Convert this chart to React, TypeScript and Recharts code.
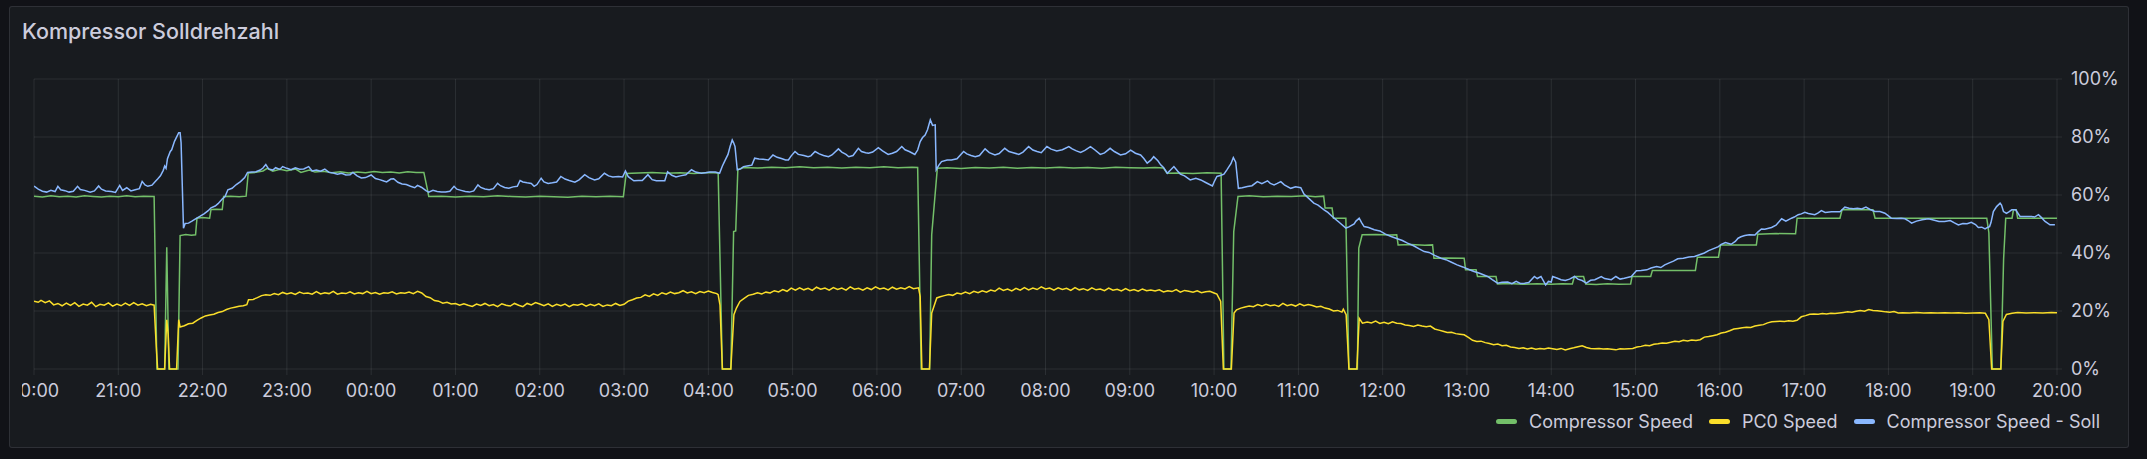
import React from 'react';
import { LineChart, Line, XAxis, YAxis, CartesianGrid } from 'recharts';

// minutes since 20:00, percent
const compressorSpeed: [number, number][] = [
  [0, 59.6], [6, 59.3], [12, 59.7], [18, 59.4], [24, 59.6], [30, 59.3], [36, 59.7], [42, 59.5], [48, 59.3],
  [54, 59.6], [60, 59.4], [66, 59.7], [72, 59.4], [78, 59.6], [85.5, 59.5], [87.5, 0], [93, 0], [94.5, 42],
  [96, 0], [102.5, 0], [104, 46], [108, 46.4], [112, 46.1], [115, 46.3], [116, 52], [120, 52.2], [125, 52],
  [126, 55], [130, 55.1], [134, 55], [135, 59.5], [140, 59.6], [146, 59.4], [151, 59.6], [152.5, 67.6],
  [158, 67.8], [163, 68.3], [166, 69.2], [170, 68.2], [175, 68.9], [180, 68.4], [186, 69.0], [190, 67.8],
  [196, 68.6], [200, 67.9], [206, 68.2], [212, 67.7], [218, 68.0], [224, 67.6], [230, 67.9], [236, 67.7],
  [242, 68.1], [248, 67.8], [254, 67.9], [260, 67.6], [266, 68.0], [272, 67.8], [277.5, 67.8], [280, 62],
  [281, 59.5], [290, 59.6], [300, 59.3], [310, 59.6], [320, 59.4], [330, 59.7], [340, 59.5], [350, 59.3],
  [360, 59.6], [370, 59.4], [380, 59.2], [390, 59.6], [400, 59.4], [410, 59.6], [419.5, 59.4], [421.5, 67.4],
  [430, 67.6], [440, 67.8], [450, 67.5], [460, 67.7], [470, 67.4], [480, 67.8], [487, 67.6], [490, 0],
  [496, 0], [498, 47.4], [499.5, 47.6], [501, 68.7], [505, 69.5], [515, 69.3], [525, 69.6], [535, 69.4],
  [545, 69.7], [555, 69.4], [565, 69.6], [575, 69.3], [585, 69.6], [595, 69.4], [605, 69.7], [615, 69.4],
  [625, 69.6], [629, 69.5], [631.5, 0], [637.5, 0], [639, 46.3], [643, 69.2], [650, 69.4], [660, 69.1],
  [670, 69.5], [680, 69.3], [690, 69.6], [700, 69.2], [710, 69.5], [720, 69.3], [730, 69.6], [740, 69.3],
  [750, 69.5], [760, 69.2], [770, 69.6], [780, 69.4], [790, 69.3], [798, 69.5], [804, 69.3], [806.5, 67.5],
  [815, 67.6], [825, 67.4], [835, 67.7], [845, 67.5], [847, 0], [852, 0], [854, 47.4], [857, 59.5],
  [865, 59.7], [875, 59.4], [885, 59.6], [895, 59.5], [905, 59.7], [912, 59.4], [918, 59.6], [919, 55.5],
  [924, 55.5], [925, 52], [933.8, 52], [936, 0], [942, 0], [943, 41.7], [945.4, 46.3], [955, 46.4],
  [965, 46.2], [970, 46.3], [971, 42.8], [980, 42.9], [990, 42.7], [995.5, 42.8], [996.5, 38.2], [1005, 38.3],
  [1018, 38.2], [1019, 34.2], [1026.5, 34.2], [1027.5, 31.9], [1040.7, 31.9], [1041.7, 29.3], [1050, 29.5],
  [1060, 29.2], [1070, 29.4], [1080, 29.2], [1088, 29.4], [1095, 29.3], [1096.5, 31.9], [1103, 31.9],
  [1104.5, 29.3], [1112, 29.1], [1120, 29.4], [1128, 29.2], [1136.5, 29.3], [1137.5, 31.9], [1150.8, 31.9],
  [1152, 34], [1182.6, 34], [1184, 38.5], [1199, 38.5], [1200.5, 42.8], [1226, 42.8], [1227, 46.5],
  [1240, 46.7], [1253.9, 46.6], [1255, 52], [1285.5, 52], [1287, 54.9], [1309, 54.9], [1310.5, 52],
  [1390, 52], [1391.5, 47], [1394, 0], [1400, 0], [1402, 38], [1403.5, 52], [1408, 52], [1409, 54.9],
  [1411, 54.9], [1412, 52], [1440, 52],
];

const pc0Speed: [number, number][] = [
  [0, 23.4], [3, 23.0], [5, 23.7], [8, 22.9], [11, 23.5], [14, 22.1], [17, 22.6], [20, 21.8], [23, 22.7],
  [26, 21.9], [29, 22.9], [32, 21.6], [35, 22.4], [38, 22.0], [41, 23.0], [44, 21.5], [47, 22.3], [50, 22.0],
  [53, 22.8], [56, 21.7], [59, 22.4], [62, 21.8], [65, 22.7], [68, 21.9], [71, 22.9], [74, 22.0], [77, 22.5],
  [80, 21.8], [83, 22.3], [85.5, 22.0], [87, 8], [88, 0], [93, 0], [94.5, 17], [95.5, 12], [96.5, 0],
  [101.5, 0], [103, 17], [104, 14.5], [107, 14.9], [110, 15.6], [113, 15.8], [116, 16.8], [119, 17.6],
  [122, 18.3], [125, 18.6], [128, 18.9], [131, 19.5], [134, 19.8], [137, 20.5], [140, 21.0], [143, 21.3],
  [146, 21.6], [149, 21.8], [151.5, 22.2], [152.7, 23.9], [156, 24.0], [159, 24.6], [162, 25.3], [165, 25.6],
  [168, 25.4], [171, 26.0], [174, 25.6], [177, 26.4], [180, 25.9], [183, 26.3], [186, 25.7], [189, 26.5],
  [192, 26.0], [195, 26.2], [198, 25.8], [201, 26.7], [204, 25.9], [207, 26.3], [210, 26.0], [213, 26.8],
  [216, 25.8], [219, 26.2], [222, 26.0], [225, 26.6], [228, 25.9], [231, 26.3], [234, 26.0], [237, 26.8],
  [240, 26.0], [243, 26.4], [246, 25.8], [249, 26.3], [252, 26.1], [255, 26.6], [258, 25.9], [261, 26.3],
  [264, 26.1], [267, 26.5], [270, 26.0], [273, 26.8], [276, 26.2], [279, 25.0], [282, 24.6], [285, 23.6],
  [288, 23.4], [291, 22.7], [294, 23.0], [297, 22.4], [300, 22.6], [303, 22.0], [306, 22.5], [309, 22.0],
  [312, 21.6], [315, 22.4], [318, 21.9], [321, 22.6], [324, 21.8], [327, 22.2], [330, 21.5], [333, 22.5],
  [336, 22.0], [339, 21.7], [342, 22.6], [345, 22.0], [348, 21.5], [351, 22.6], [354, 22.1], [357, 22.9],
  [360, 22.4], [363, 21.8], [366, 22.5], [369, 21.6], [372, 22.3], [375, 21.8], [378, 22.4], [381, 21.5],
  [384, 22.2], [387, 22.0], [390, 22.5], [393, 21.7], [396, 22.3], [399, 21.8], [402, 22.5], [405, 21.6],
  [408, 22.1], [411, 21.8], [414, 22.6], [417, 21.9], [420, 22.3], [423, 23.4], [426, 23.9], [429, 24.5],
  [432, 24.7], [435, 25.6], [438, 25.0], [441, 25.9], [444, 25.4], [447, 26.3], [450, 25.8], [453, 26.5],
  [456, 26.0], [459, 26.3], [462, 27.0], [465, 26.2], [468, 26.6], [471, 26.0], [474, 26.7], [477, 26.3],
  [480, 26.9], [483, 26.4], [486, 26.0], [487, 25.6], [488.3, 22], [490, 0], [496, 0], [498.2, 18.7],
  [500, 21.0], [502.5, 23.3], [505, 24.2], [508.5, 25.4], [512, 25.8], [515, 26.3], [518, 25.9], [521, 26.5],
  [524, 26.2], [527, 27.0], [530, 26.6], [533, 27.4], [536, 26.8], [539, 27.9], [542, 27.2], [545, 28.0],
  [548, 27.3], [551, 27.8], [554, 27.1], [557, 28.2], [560, 27.5], [563, 27.9], [566, 27.2], [569, 28.1],
  [572, 27.4], [575, 27.9], [578, 27.2], [581, 28.3], [584, 27.5], [587, 27.8], [590, 27.2], [593, 28.0],
  [596, 27.4], [599, 28.3], [602, 27.6], [605, 27.9], [608, 27.3], [611, 28.2], [614, 27.5], [617, 28.0],
  [620, 27.6], [623, 28.4], [626, 27.7], [629.6, 28.0], [630.8, 25], [632, 0], [637.4, 0], [639, 19.3],
  [642.6, 24.5], [645, 24.9], [648, 25.3], [651, 25.7], [654, 25.4], [657, 26.2], [660, 25.9], [663, 26.5],
  [666, 26.0], [669, 26.8], [672, 26.3], [675, 27.0], [678, 26.5], [681, 27.2], [684, 26.8], [687, 27.9],
  [690, 27.1], [693, 27.6], [696, 26.9], [699, 27.8], [702, 27.2], [705, 28.1], [708, 27.3], [711, 27.9],
  [714, 27.4], [717, 28.3], [720, 27.6], [723, 27.9], [726, 27.2], [729, 28.0], [732, 27.4], [735, 27.8],
  [738, 27.1], [741, 28.1], [744, 27.3], [747, 27.7], [750, 27.1], [753, 28.0], [756, 27.3], [759, 27.6],
  [762, 27.0], [765, 27.9], [768, 27.2], [771, 27.5], [774, 26.9], [777, 27.7], [780, 27.0], [783, 27.4],
  [786, 26.8], [789, 27.6], [792, 27.0], [795, 27.2], [798, 26.9], [801, 27.3], [804, 26.6], [807, 27.0],
  [810, 26.7], [813, 27.4], [816, 26.5], [819, 27.1], [822, 26.8], [825, 26.5], [828, 27.0], [831, 26.3],
  [834, 26.6], [837, 26.8], [840, 26.2], [842, 25.8], [844.7, 23.3], [846.6, 0], [852.3, 0], [854.2, 19.3],
  [856, 20.4], [859, 21.0], [862, 21.4], [865, 21.7], [868, 21.5], [871, 22.2], [874, 21.7], [877, 22.3],
  [880, 21.8], [883, 22.1], [886, 21.6], [889, 22.6], [892, 21.8], [895, 22.2], [898, 21.7], [901, 22.5],
  [904, 21.8], [907, 22.2], [910, 21.9], [913, 21.4], [916, 21.6], [919, 21.0], [922, 20.7], [925, 20.0],
  [928, 20.2], [931, 19.6], [932, 20.6], [934, 18.7], [936, 0], [941.6, 0], [943.3, 17.5], [945.6, 15.8],
  [949, 16.2], [952, 15.9], [955, 16.5], [958, 15.7], [961, 16.1], [964, 15.6], [967, 16.3], [970, 15.8],
  [973, 15.7], [976, 15.2], [979, 15.0], [982, 14.7], [985, 15.2], [988, 14.8], [991, 14.6], [994, 14.8],
  [997, 13.8], [1000, 13.4], [1003, 13.0], [1006, 12.6], [1009, 12.7], [1012, 12.2], [1015, 12.0],
  [1018, 11.8], [1021, 10.9], [1024, 9.9], [1027, 9.5], [1030, 9.6], [1033, 9.1], [1036, 8.8], [1039, 8.4],
  [1042, 8.6], [1045, 8.0], [1048, 8.2], [1051, 7.6], [1054, 7.4], [1057, 7.1], [1060, 7.3], [1063, 6.9],
  [1066, 7.2], [1069, 6.8], [1072, 7.1], [1075, 6.9], [1078, 7.2], [1081, 7.0], [1084, 6.7], [1087, 7.1],
  [1090, 6.6], [1093, 7.0], [1096, 7.3], [1099, 7.7], [1102, 8.0], [1105, 7.4], [1108, 7.1], [1111, 7.0],
  [1114, 7.1], [1117, 6.9], [1120, 7.0], [1123, 6.8], [1126, 6.6], [1129, 7.0], [1132, 6.9], [1135, 7.0],
  [1138, 7.1], [1141, 7.6], [1144, 7.8], [1147, 8.2], [1150, 8.0], [1153, 8.5], [1156, 8.7], [1159, 9.0],
  [1162, 8.9], [1165, 9.2], [1168, 9.6], [1171, 9.4], [1174, 9.9], [1177, 9.7], [1180, 10.0], [1183, 9.8],
  [1186, 10.1], [1189, 11.0], [1192, 11.2], [1195, 11.5], [1198, 11.8], [1201, 12.4], [1204, 12.7],
  [1207, 13.2], [1210, 13.8], [1213, 14.0], [1216, 14.2], [1219, 14.4], [1222, 14.3], [1225, 14.8],
  [1228, 15.1], [1231, 15.3], [1234, 15.9], [1237, 16.3], [1240, 16.4], [1243, 16.5], [1246, 16.4],
  [1249, 16.6], [1252, 16.5], [1255, 16.8], [1258, 18.0], [1261, 18.4], [1264, 18.9], [1267, 19.0],
  [1270, 18.9], [1273, 19.1], [1276, 19.0], [1279, 19.2], [1282, 19.1], [1285, 19.3], [1288, 19.5],
  [1291, 19.7], [1294, 19.6], [1297, 19.9], [1300, 20.2], [1303, 19.9], [1306, 20.5], [1309, 20.2],
  [1312, 20.1], [1315, 19.9], [1318, 19.7], [1321, 19.6], [1324, 19.8], [1327, 19.3], [1330, 19.4],
  [1335, 19.3], [1340, 19.5], [1345, 19.3], [1350, 19.4], [1355, 19.3], [1360, 19.4], [1365, 19.3],
  [1370, 19.4], [1375, 19.2], [1380, 19.3], [1385, 19.4], [1389, 19.2], [1391.5, 17], [1393.5, 0],
  [1400, 0], [1401.5, 16.4], [1404, 18.8], [1408, 19.2], [1412, 19.5], [1418, 19.3], [1424, 19.4],
  [1430, 19.3], [1436, 19.5], [1440, 19.4],
];

const compressorSpeedSoll: [number, number][] = [
  [0, 63.1], [3, 62.0], [6, 61.3], [9, 61.0], [12, 61.6], [15, 61.2], [17, 63.0], [19, 61.8], [22, 61.5],
  [25, 61.0], [28, 61.3], [31, 63.0], [33, 61.9], [36, 61.6], [40, 61.0], [43, 61.4], [46, 63.1], [48, 62.0],
  [51, 61.4], [55, 61.2], [58, 60.9], [61, 63.3], [63, 61.6], [66, 62.5], [69, 61.4], [72, 61.8], [75, 62.2],
  [77, 64.7], [79, 63.5], [81, 63.0], [84, 63.4], [86, 64.5], [88, 65.5], [90, 66.6], [92, 68.5], [93, 70.0],
  [94, 69.2], [95, 72.5], [97, 75.0], [98, 75.6], [100, 78.5], [102, 80.5], [103, 81.5], [104, 81.5],
  [104.7, 78], [106.4, 48.5], [107.6, 50.2], [110, 50.3], [112.4, 51.0], [115, 51.8], [118, 52.6],
  [121, 53.5], [124, 54.6], [126, 55.6], [129, 56.2], [131, 57.0], [134, 58.6], [136, 59.5], [138, 61.8],
  [141, 62.3], [144, 63.6], [147, 64.6], [150, 66.0], [152, 67.8], [155, 67.9], [158, 68.0], [161, 68.6],
  [163, 69.3], [165, 70.5], [167, 69.0], [170, 68.6], [172, 69.4], [175, 68.8], [177, 69.8], [180, 69.2],
  [183, 68.7], [186, 69.4], [189, 68.9], [192, 69.0], [195.5, 69.8], [198, 68.3], [201, 68.6], [204, 68.2],
  [207, 68.9], [210, 67.8], [213, 67.6], [216, 67.2], [219, 67.5], [222, 66.9], [225, 67.0], [227, 67.8],
  [230, 66.6], [233, 65.9], [236, 66.0], [240, 66.9], [243, 65.7], [246, 65.3], [249, 64.8], [251, 64.5],
  [254, 65.5], [256, 65.6], [259, 64.4], [262, 63.8], [265, 63.6], [268, 63.0], [271, 62.5], [273, 63.3],
  [276, 62.6], [279, 61.5], [281, 61.0], [284, 61.6], [287, 61.2], [290, 61.0], [293, 61.0], [296, 61.3],
  [299, 63.0], [301, 62.0], [304, 61.6], [307, 61.2], [310, 61.0], [313, 61.4], [316, 63.5], [318, 62.6],
  [321, 62.1], [324, 61.8], [327, 62.2], [330, 64.0], [332, 63.2], [335, 62.6], [338, 62.3], [341, 62.8],
  [344, 63.0], [346, 65.0], [348, 64.5], [351, 64.2], [354, 64.0], [356, 63.0], [358, 63.6], [361, 65.8],
  [363, 64.5], [366, 64.0], [369, 64.2], [372, 64.5], [375, 66.4], [378, 65.5], [381, 65.0], [385, 64.4],
  [388, 65.2], [392, 67.0], [395, 66.0], [399, 65.2], [402, 65.6], [406, 67.5], [409, 66.6], [412, 66.2],
  [416, 66.4], [419, 66.2], [421, 68.3], [423, 66.3], [427, 64.9], [430, 65.0], [433, 65.0], [437, 67.0],
  [440, 65.3], [443, 64.9], [446, 64.9], [449, 64.9], [451, 68.0], [454, 66.8], [457, 66.2], [460, 66.6],
  [464, 67.0], [468, 68.7], [471, 67.9], [475, 67.5], [478, 67.7], [481, 67.9], [485, 67.9], [488, 67.5],
  [490, 70.0], [492, 72.0], [494, 74.0], [495.5, 76.7], [497, 79.0], [498, 78.0], [499, 76.7], [500.6, 68.7],
  [503, 69.0], [505, 69.8], [508.5, 70.1], [511, 70.3], [513, 72.7], [516, 72.4], [519, 72.3], [522.7, 72.1],
  [526, 73.8], [529, 73.0], [532, 72.6], [535, 72.1], [537, 72.1], [539, 73.5], [541.7, 75.0], [544, 74.0],
  [548, 73.6], [551, 73.2], [553, 73.5], [556, 75.0], [559, 74.2], [562, 73.6], [565.5, 73.2], [568, 73.8],
  [572.6, 75.9], [575, 74.8], [578, 74.0], [580, 73.2], [583, 73.6], [586.8, 76.1], [589, 75.0], [592, 74.6],
  [594, 74.4], [597, 74.8], [601, 76.3], [604, 75.2], [608, 74.0], [611, 74.4], [614, 75.0], [617.7, 76.7],
  [620, 75.6], [623, 75.0], [627, 74.0], [629, 75.5], [630.8, 78.4], [632.5, 79.8], [634.3, 80.7],
  [636, 82.5], [638, 85.9], [639.6, 84.0], [641.5, 84.2], [642.2, 68.7], [644, 70.2], [646, 71.5],
  [650, 72.1], [653, 72.1], [657, 72.5], [661.7, 75.0], [664, 74.2], [667, 73.6], [670, 73.2], [673, 73.6],
  [677, 75.9], [680, 74.6], [684, 73.8], [687, 74.3], [691, 76.1], [694, 75.0], [697, 74.6], [701, 74.0],
  [704, 74.8], [708, 76.7], [711, 75.5], [714, 75.0], [717, 74.6], [721, 76.7], [724, 75.8], [728, 75.2],
  [732, 75.6], [736.6, 76.7], [739, 75.9], [742, 75.2], [745, 74.7], [748, 75.4], [752, 76.7], [755, 75.6],
  [759, 74.0], [762, 74.5], [766, 76.1], [769, 75.0], [773.4, 73.8], [777, 74.2], [780.6, 75.5], [784, 74.4],
  [787.7, 73.8], [790, 72.6], [792.4, 71.0], [795, 72.0], [797, 73.2], [800, 71.8], [802, 70.4], [804, 69.5],
  [806.7, 67.5], [809, 68.6], [811.4, 69.8], [814, 68.3], [816, 67.2], [819, 66.6], [823, 65.2], [827, 65.8],
  [830.5, 65.2], [834, 64.3], [838.8, 63.1], [840, 64.5], [842, 66.4], [845, 66.8], [847, 67.2], [849, 68.6],
  [850.6, 69.8], [852, 70.8], [853.7, 72.9], [855.4, 71.3], [857.3, 62.3], [860, 62.5], [863.7, 62.9],
  [867, 63.2], [870.8, 64.6], [874, 63.9], [878, 64.9], [880, 64.0], [882.7, 63.5], [885, 64.0],
  [887.5, 64.6], [890, 63.5], [894.6, 62.3], [898, 62.8], [901.7, 62.5], [904, 60.3], [907, 59.0],
  [911, 57.2], [914, 56.5], [918.3, 54.9], [921, 54.0], [925.5, 52.0], [929, 50.6], [933.8, 48.6],
  [936, 49.0], [939.7, 50.0], [941, 51.0], [943.3, 52.0], [945, 50.5], [946.8, 49.1], [950, 48.8],
  [954, 48.0], [958, 47.6], [962, 46.5], [966, 45.7], [970, 45.0], [974, 44.3], [977.7, 43.4], [982, 42.5],
  [986, 41.4], [989.6, 40.5], [993, 40.2], [997, 39.2], [1001.5, 38.2], [1005, 37.7], [1009, 36.8],
  [1013, 35.9], [1017, 35.2], [1021, 34.4], [1025, 33.6], [1029, 33.0], [1034.7, 31.9], [1038, 30.8],
  [1041.8, 29.6], [1045, 29.9], [1049, 30.0], [1052, 29.4], [1055, 30.2], [1058, 29.5], [1061, 29.6],
  [1064, 29.8], [1068, 31.9], [1070, 31.2], [1072.7, 31.9], [1076, 29.0], [1078, 30.2], [1080, 30.0],
  [1081, 31.9], [1084, 31.4], [1087, 30.8], [1090, 30.5], [1093, 31.0], [1096.6, 31.9], [1099, 31.0],
  [1102, 30.5], [1105, 29.6], [1108, 30.6], [1111, 30.8], [1115.6, 31.9], [1118, 31.2], [1122.8, 30.8],
  [1126, 31.9], [1129, 31.0], [1132, 31.3], [1137, 31.9], [1140.6, 33.9], [1144, 34.0], [1148, 34.2],
  [1151, 34.8], [1155, 35.3], [1158, 35.0], [1160.8, 35.9], [1164, 36.6], [1167, 37.2], [1170, 38.0],
  [1174, 38.2], [1178, 38.6], [1182, 38.8], [1186, 39.5], [1189, 40.0], [1192, 40.8], [1196.4, 41.7],
  [1199, 42.2], [1201, 43.0], [1204, 43.6], [1208, 43.0], [1211, 44.0], [1213, 45.1], [1215, 45.6],
  [1217.8, 46.0], [1221, 46.3], [1225, 46.2], [1227, 47.2], [1229.6, 48.3], [1232, 48.2], [1236.8, 48.8],
  [1240, 49.6], [1244, 51.8], [1247, 51.0], [1251, 52.0], [1253, 52.4], [1255.8, 53.2], [1258, 53.5],
  [1260.5, 54.0], [1263, 53.6], [1267.6, 53.2], [1270, 53.8], [1272.3, 54.6], [1275, 54.0], [1279.5, 54.2],
  [1282, 54.2], [1285.5, 54.2], [1287, 54.9], [1289, 55.8], [1292, 55.4], [1295, 55.3], [1298, 55.4],
  [1301, 55.2], [1304, 55.8], [1307, 55.0], [1310.4, 54.3], [1314, 54.3], [1317.5, 53.7], [1320, 52.8],
  [1322, 52.0], [1326, 51.9], [1329, 52.0], [1331.8, 51.8], [1334, 51.2], [1336.5, 50.3], [1340, 51.0],
  [1344, 51.5], [1348.4, 51.8], [1352, 51.4], [1356, 50.9], [1360, 50.9], [1364, 51.2], [1367, 50.4],
  [1369.8, 49.7], [1373, 50.2], [1376, 50.1], [1379, 50.6], [1382, 49.8], [1384, 48.8], [1386.5, 48.9],
  [1388.8, 48.3], [1390.5, 48.8], [1392, 49.1], [1393, 50.5], [1394.7, 54.3], [1397, 56.0], [1399.5, 57.2],
  [1400.5, 56.5], [1401.9, 54.3], [1404, 53.7], [1406, 54.3], [1407.8, 54.9], [1410.6, 54.9], [1413.7, 52.6],
  [1418, 52.6], [1422, 52.6], [1424, 52.4], [1426.8, 53.2], [1429, 52.2], [1431.5, 50.9], [1435, 49.7],
  [1438.5, 49.7],
];

const hourTicks = [0, 60, 120, 180, 240, 300, 360, 420, 480, 540, 600, 660, 720, 780, 840, 900, 960, 1020, 1080, 1140, 1200, 1260, 1320, 1380, 1440];
const hourLabels = ['20:00', '21:00', '22:00', '23:00', '00:00', '01:00', '02:00', '03:00', '04:00', '05:00', '06:00', '07:00', '08:00', '09:00', '10:00', '11:00', '12:00', '13:00', '14:00', '15:00', '16:00', '17:00', '18:00', '19:00', '20:00'];
const percentTicks = [0, 20, 40, 60, 80, 100];

const series = [
  { name: 'Compressor Speed', color: '#73bf69', points: compressorSpeed },
  { name: 'PC0 Speed', color: '#fade2a', points: pc0Speed },
  { name: 'Compressor Speed - Soll', color: '#8ab8ff', points: compressorSpeedSoll },
];

const W = 2147;
const H = 459;
const GRID = 'rgba(240, 250, 255, 0.09)';
const TEXT = '#ccccdc';
const FONT = 'Inter, "Helvetica Neue", Arial, sans-serif';

const toPoints = (arr: [number, number][]) => arr.map(([t, v]) => ({ t, v }));

export default function App() {
  return (
    <div style={{ position: 'relative', width: W, height: H, background: '#111217', fontFamily: FONT, overflow: 'hidden' }}>
      <style>{'body{margin:0;background:#111217}'}</style>
      <div
        style={{
          position: 'absolute', left: 9, top: 6, width: 2118, height: 440,
          background: '#181b1f', border: '1px solid rgba(204, 204, 220, 0.12)', borderRadius: 3,
        }}
      />
      <div style={{ position: 'absolute', left: 22, top: 21, fontSize: 21.5, lineHeight: 1, fontWeight: 500, color: TEXT, whiteSpace: 'nowrap' }}>
        Kompressor Solldrehzahl
      </div>

      <div style={{ position: 'absolute', left: 22, top: 0, width: 2100, height: H, overflow: 'hidden' }}>
        <div style={{ position: 'absolute', left: -22, top: 0 }}>
          <LineChart width={W} height={H} margin={{ top: 79, right: 0, bottom: 60, left: 34 }}>
            <CartesianGrid stroke={GRID} strokeWidth={1} />
            <XAxis
              dataKey="t"
              type="number"
              domain={[0, 1440]}
              ticks={hourTicks}
              tickFormatter={(v: number) => hourLabels[hourTicks.indexOf(v)]}
              axisLine={false}
              tickLine={{ stroke: GRID }}
              tickSize={6}
              tickMargin={9}
              height={30}
              interval={0}
              tick={{ fill: TEXT, fontSize: 18, fontFamily: FONT }}
              allowDataOverflow
            />
            <YAxis
              orientation="right"
              domain={[0, 100]}
              ticks={percentTicks}
              tickFormatter={(v: number) => `${v}%`}
              axisLine={false}
              tickLine={{ stroke: GRID }}
              tickSize={5}
              tickMargin={9}
              width={90}
              tick={{ fill: TEXT, fontSize: 18, fontFamily: FONT }}
            />
            {series.map((s) => (
              <Line
                key={s.name}
                data={toPoints(s.points)}
                dataKey="v"
                name={s.name}
                type="linear"
                stroke={s.color}
                strokeWidth={1.5}
                dot={false}
                activeDot={false}
                isAnimationActive={false}
              />
            ))}
          </LineChart>
        </div>
      </div>

      <div style={{ position: 'absolute', right: 47, top: 410, height: 22, display: 'flex', alignItems: 'center', fontSize: 18, color: TEXT, whiteSpace: 'nowrap' }}>
        {series.map((s, i) => (
          <div key={s.name} style={{ display: 'flex', alignItems: 'center', marginLeft: i === 0 ? 0 : 16 }}>
            <span style={{ display: 'inline-block', width: 21, height: 5, borderRadius: 3, background: s.color, marginRight: 12 }} />
            <span>{s.name}</span>
          </div>
        ))}
      </div>
    </div>
  );
}
